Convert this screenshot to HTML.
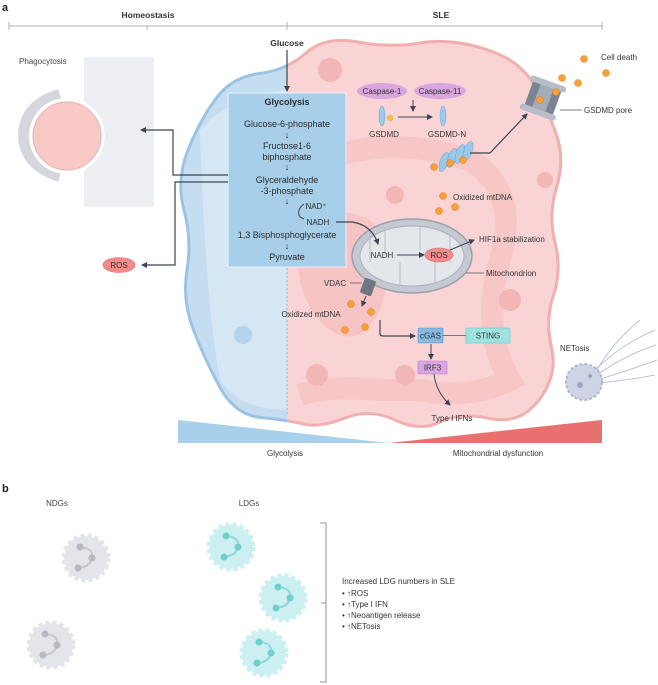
<!DOCTYPE html>
<html><head><meta charset="utf-8"><style>
html,body{margin:0;padding:0;background:#fff;}
svg{display:block;font-family:"Liberation Sans",sans-serif;}
</style></head><body>
<svg width="658" height="685" viewBox="0 0 658 685" xmlns="http://www.w3.org/2000/svg">
<defs>
<marker id="ah" markerWidth="6" markerHeight="6" refX="5" refY="3" orient="auto" markerUnits="userSpaceOnUse"><path d="M0,0 L6,3 L0,6 Z" fill="#3c4652"/></marker>
<clipPath id="cl"><rect x="0" y="0" width="287" height="500"/></clipPath>
<clipPath id="cr"><rect x="287" y="0" width="400" height="500"/></clipPath>
<path id="cell" d="M216,98.5 Q232,77 259.5,73.5 Q287,70 306,53 Q325,36 357.5,42 Q390,48 420,43 Q450,38 485,49 Q520,60 534,85 Q548,110 556.5,135 Q565,160 556.5,187.5 Q548,215 555,242.5 Q562,270 553.5,295 Q545,320 551.5,347.5 Q558,375 539,400 Q520,425 490,418.5 Q460,412 440,422 Q420,432 395,420 Q370,408 345,418 Q320,428 303.5,424 Q287,420 261,417.5 Q235,415 220,387.5 Q205,360 193.5,330 Q182,300 187,270 Q192,240 184,210 Q176,180 188,150 Q200,120 216,98.5 Z"/>
</defs>
<text x="2" y="11" font-size="11" font-weight="bold" fill="#222">a</text>
<text x="148" y="18" font-size="8.5" font-weight="bold" text-anchor="middle" fill="#333">Homeostasis</text>
<text x="441" y="18" font-size="8.5" font-weight="bold" text-anchor="middle" fill="#333">SLE</text>
<g stroke="#999" stroke-width="0.8"><line x1="9" y1="26" x2="602" y2="26"/><line x1="9" y1="22" x2="9" y2="30"/><line x1="147" y1="26" x2="147" y2="30"/><line x1="287" y1="22" x2="287" y2="30"/><line x1="602" y1="22" x2="602" y2="30"/></g>

<!-- phagocytosis -->
<text x="19" y="64" font-size="8" fill="#444">Phagocytosis</text>
<rect x="84" y="57" width="70" height="150" fill="#eceef1"/>
<path d="M60,95 Q25,105 24,135 Q25,165 60,176" fill="none" stroke="#d5d7dc" stroke-width="12"/>
<circle cx="67" cy="136" r="38" fill="#fff"/>
<circle cx="67" cy="136" r="34" fill="#f9c9c6" stroke="#e8b0ad" stroke-width="1"/>

<!-- cell -->
<use href="#cell" clip-path="url(#cl)" fill="#c5ddf0" stroke="#9cc3e3" stroke-width="3"/>
<use href="#cell" clip-path="url(#cr)" fill="#fad4d4" stroke="#f0b0b0" stroke-width="3"/>
<g clip-path="url(#cr)">
<path d="M300,230 Q330,200 370,220 Q400,250 380,310 Q360,350 330,330 Q290,300 300,230 Z" fill="#f5b9ba" opacity="0.6"/>
<path d="M300,170 Q380,130 470,160 Q520,190 500,260 Q480,330 510,380 Q470,400 420,390 L380,390 Q330,385 300,395" fill="none" stroke="#f5c0c0" stroke-width="22" opacity="0.7"/>
<circle cx="330" cy="70" r="12" fill="#f3b6b6"/>
<circle cx="395" cy="195" r="9" fill="#f3b6b6"/>
<circle cx="510" cy="300" r="11" fill="#f3b6b6"/>
<circle cx="317" cy="375" r="11" fill="#f3b6b6"/>
<circle cx="405" cy="375" r="10" fill="#f3b6b6"/>
<circle cx="545" cy="180" r="8" fill="#f3b6b6"/>
</g>
<g clip-path="url(#cl)">
<path d="M200,130 Q230,95 287,90 L287,410 Q240,410 220,380 Q205,300 200,130 Z" fill="#dbeaf6" opacity="0.7"/>
<circle cx="243" cy="335" r="9" fill="#b4d3ec"/>
</g>
<line x1="287" y1="268" x2="287" y2="415" stroke="#999" stroke-width="0.7" stroke-dasharray="2,2"/>

<!-- glucose & glycolysis -->
<text x="287" y="46" font-size="8.5" font-weight="bold" text-anchor="middle" fill="#333">Glucose</text>
<line x1="287" y1="50" x2="287" y2="91" stroke="#3c4652" stroke-width="1.2" marker-end="url(#ah)"/>
<rect x="228" y="93" width="118" height="174" fill="#a8cfe9" stroke="#e8f2fa" stroke-width="1"/>
<g font-size="9" fill="#2b2b2b" text-anchor="middle">
<text x="287" y="105" font-weight="bold">Glycolysis</text>
<text x="287" y="127">Glucose-6-phosphate</text>
<text x="287" y="138">↓</text>
<text x="287" y="149">Fructose1-6</text>
<text x="287" y="160">biphosphate</text>
<text x="287" y="170">↓</text>
<text x="287" y="183">Glyceraldehyde</text>
<text x="287" y="194">-3-phosphate</text>
<text x="287" y="204">↓</text>
<text x="287" y="238">1,3 Bisphosphoglycerate</text>
<text x="287" y="249">↓</text>
<text x="287" y="260">Pyruvate</text>
<text x="316" y="209" font-size="8">NAD⁺</text>
<text x="318" y="225" font-size="8">NADH</text>
</g>
<path d="M304,204 Q296,210 300,217 L304,219" fill="none" stroke="#3c4652" stroke-width="1"/>
<!-- arrows left -->
<path d="M228,175 L173,175 L173,130 L141,130" fill="none" stroke="#3c4652" stroke-width="1.2" marker-end="url(#ah)"/>
<path d="M228,182 L175,182 L175,265 L142,265" fill="none" stroke="#3c4652" stroke-width="1.2" marker-end="url(#ah)"/>
<ellipse cx="119" cy="265" rx="16" ry="7.5" fill="#f28b89" stroke="#e06e6c" stroke-width="0.6"/>
<text x="119" y="268" font-size="8" text-anchor="middle" fill="#333">ROS</text>

<!-- caspases -->
<ellipse cx="382" cy="91" rx="25" ry="8" fill="#d9a6df"/>
<ellipse cx="440" cy="91" rx="26" ry="8" fill="#d9a6df"/>
<text x="382" y="94" font-size="8" text-anchor="middle" fill="#333">Caspase-1</text>
<text x="440" y="94" font-size="8" text-anchor="middle" fill="#333">Caspase-11</text>
<line x1="413" y1="100" x2="413" y2="111" stroke="#3c4652" stroke-width="1" marker-end="url(#ah)"/>
<line x1="398" y1="117" x2="432" y2="117" stroke="#3c4652" stroke-width="1" marker-end="url(#ah)"/>
<ellipse cx="382" cy="116" rx="3" ry="10" fill="#9cc8ea" stroke="#6fa6d3" stroke-width="0.5"/>
<circle cx="390" cy="118" r="3" fill="#f4c430" stroke="#c99" stroke-width="0.4"/>
<ellipse cx="443" cy="116" rx="3" ry="10" fill="#9cc8ea" stroke="#6fa6d3" stroke-width="0.5"/>
<text x="384" y="137" font-size="8" text-anchor="middle" fill="#333">GSDMD</text>
<text x="447" y="137" font-size="8" text-anchor="middle" fill="#333">GSDMD-N</text>
<g fill="#9cc8ea" stroke="#6fa6d3" stroke-width="0.5">
<ellipse cx="444" cy="162" rx="4" ry="10" transform="rotate(20 444 162)"/>
<ellipse cx="452" cy="158" rx="4" ry="10" transform="rotate(20 452 158)"/>
<ellipse cx="460" cy="154" rx="4" ry="10" transform="rotate(20 460 154)"/>
<ellipse cx="468" cy="151" rx="4" ry="10" transform="rotate(20 468 151)"/>
</g>
<path d="M470,153 L490,153 L527,114" fill="none" stroke="#3c4652" stroke-width="1.2" marker-end="url(#ah)"/>
<!-- pore -->
<g transform="rotate(20 543 98)">
<rect x="528" y="82" width="30" height="32" fill="#7a8392" rx="3"/>
<rect x="524" y="80" width="38" height="6" fill="#b7bec9" rx="3"/>
<rect x="524" y="110" width="38" height="6" fill="#b7bec9" rx="3"/>
<rect x="536" y="86" width="14" height="24" fill="#a4acb8"/>
</g>
<line x1="560" y1="110" x2="582" y2="110" stroke="#555" stroke-width="0.7"/>
<text x="584" y="113" font-size="8" fill="#333">GSDMD pore</text>
<text x="601" y="60" font-size="8" fill="#333">Cell death</text>
<g fill="#f6a03a" stroke="#e07a20" stroke-width="0.5">
<circle cx="584" cy="59" r="3.5"/><circle cx="606" cy="73" r="3.5"/><circle cx="562" cy="78" r="3.5"/><circle cx="578" cy="83" r="3.5"/><circle cx="556" cy="92" r="3.5"/><circle cx="540" cy="100" r="3.5"/>
<circle cx="434" cy="167" r="3.5"/><circle cx="450" cy="163" r="3.5"/><circle cx="463" cy="160" r="3.5"/>
<circle cx="443" cy="196" r="3.5"/><circle cx="439" cy="211" r="3.5"/><circle cx="455" cy="207" r="3.5"/>
<circle cx="351" cy="304" r="3.5"/><circle cx="371" cy="312" r="3.5"/><circle cx="345" cy="330" r="3.5"/><circle cx="365" cy="327" r="3.5"/>
</g>
<text x="453" y="200" font-size="8" fill="#333">Oxidized mtDNA</text>

<!-- mitochondrion -->
<ellipse cx="412" cy="256" rx="60" ry="37" fill="#c5c9d1" stroke="#9ba1ab" stroke-width="1.5"/>
<ellipse cx="412" cy="256" rx="52" ry="30" fill="#e3e6ea" stroke="#aab0ba" stroke-width="1"/>
<g stroke="#b7bcc5" stroke-width="1" fill="none">
<path d="M370,232 L370,262"/><path d="M385,228 L385,255"/><path d="M400,262 L400,285"/><path d="M420,226 L420,250"/><path d="M435,262 L435,283"/><path d="M450,235 L450,262"/>
</g>
<path d="M336,222 L352,222 Q372,225 378,244" fill="none" stroke="#3c4652" stroke-width="1.2" marker-end="url(#ah)"/>
<text x="382" y="258" font-size="8" text-anchor="middle" fill="#333">NADH</text>
<line x1="397" y1="255" x2="424" y2="255" stroke="#3c4652" stroke-width="1" marker-end="url(#ah)"/>
<ellipse cx="439" cy="255" rx="14" ry="7" fill="#f28b89" stroke="#e06e6c" stroke-width="0.6"/>
<text x="439" y="258" font-size="8" text-anchor="middle" fill="#333">ROS</text>
<line x1="450" y1="250" x2="474" y2="240" stroke="#3c4652" stroke-width="1" marker-end="url(#ah)"/>
<text x="479" y="242" font-size="8" fill="#333">HIF1a stabilization</text>
<line x1="466" y1="273" x2="484" y2="273" stroke="#555" stroke-width="0.7"/>
<text x="486" y="276" font-size="8" fill="#333">Mitochondrion</text>
<!-- VDAC -->
<rect x="362" y="279" width="12" height="16" fill="#6e7684" rx="2" transform="rotate(20 368 287)"/>
<text x="335" y="286" font-size="8" text-anchor="middle" fill="#333">VDAC</text>
<line x1="350" y1="283" x2="362" y2="283" stroke="#555" stroke-width="0.7"/>
<line x1="366" y1="296" x2="362" y2="306" stroke="#3c4652" stroke-width="1" marker-end="url(#ah)"/>
<text x="311" y="317" font-size="8" text-anchor="middle" fill="#333">Oxidized mtDNA</text>
<path d="M380,320 L380,334 Q380,336 383,336 L415,336" fill="none" stroke="#3c4652" stroke-width="1.2" marker-end="url(#ah)"/>
<rect x="418" y="328" width="25" height="15" fill="#86b8e2" stroke="#5c93c4" stroke-width="0.6" rx="1"/>
<text x="430.5" y="338.5" font-size="8" text-anchor="middle" fill="#333">cGAS</text>
<line x1="443" y1="335.5" x2="466" y2="335.5" stroke="#555" stroke-width="0.8"/>
<rect x="466" y="328" width="44" height="15" fill="#9fe3e0" stroke="#5cc3c0" stroke-width="0.6" rx="1"/>
<text x="488" y="338.5" font-size="8" text-anchor="middle" fill="#333">STING</text>
<line x1="431" y1="344" x2="431" y2="359" stroke="#3c4652" stroke-width="1" marker-end="url(#ah)"/>
<rect x="418" y="361" width="29" height="13" fill="#d9a6df" stroke="#b77fc0" stroke-width="0.6" rx="1"/>
<text x="432.5" y="370.5" font-size="8" text-anchor="middle" fill="#333">IRF3</text>
<path d="M434,374 Q436,392 450,405" fill="none" stroke="#3c4652" stroke-width="1" marker-end="url(#ah)"/>
<text x="452" y="421" font-size="8" text-anchor="middle" fill="#333">Type I IFNs</text>

<!-- NETosis -->
<text x="560" y="351" font-size="8" fill="#333">NETosis</text>
<g stroke="#a9b3cc" stroke-width="0.8" fill="none">
<path d="M595,370 Q620,345 655,330"/><path d="M597,375 Q625,355 656,345"/><path d="M597,380 Q630,370 657,360"/><path d="M596,372 Q610,345 640,320"/><path d="M598,383 Q630,380 655,375"/>
</g>
<circle cx="584" cy="382" r="18" fill="#cfd3e6" stroke="#b0b6cf" stroke-width="2" stroke-dasharray="3,2"/>
<circle cx="580" cy="385" r="3" fill="#9da4c2"/><circle cx="590" cy="376" r="2" fill="#9da4c2"/>

<!-- gradient triangles -->
<polygon points="178,420 389,443 178,443" fill="#a9d0ea"/>
<polygon points="389,443 602,420 602,443" fill="#e8706e"/>
<text x="285" y="456" font-size="8" text-anchor="middle" fill="#333">Glycolysis</text>
<text x="498" y="456" font-size="8" text-anchor="middle" fill="#333">Mitochondrial dysfunction</text>

<!-- part b -->
<text x="2" y="492" font-size="11" font-weight="bold" fill="#222">b</text>
<text x="57" y="506" font-size="8" text-anchor="middle" fill="#444">NDGs</text>
<text x="249" y="506" font-size="8" text-anchor="middle" fill="#444">LDGs</text>
<g>
<circle cx="86" cy="558" r="22" fill="#e4e5ea" stroke="#e4e5ea" stroke-width="5" stroke-dasharray="4,3"/>
<path d="M80,547 Q94,548 92,558 Q90,567 78,568" fill="none" stroke="#c5c7cf" stroke-width="2"/>
<circle cx="80" cy="547" r="3.5" fill="#b7b9c2"/><circle cx="92" cy="558" r="3.5" fill="#b7b9c2"/><circle cx="78" cy="568" r="3.5" fill="#b7b9c2"/>
<circle cx="51" cy="645" r="22" fill="#e4e5ea" stroke="#e4e5ea" stroke-width="5" stroke-dasharray="4,3"/>
<path d="M45,634 Q59,635 57,645 Q55,654 43,655" fill="none" stroke="#c5c7cf" stroke-width="2"/>
<circle cx="45" cy="634" r="3.5" fill="#b7b9c2"/><circle cx="57" cy="645" r="3.5" fill="#b7b9c2"/><circle cx="43" cy="655" r="3.5" fill="#b7b9c2"/>
</g>
<g>
<circle cx="231" cy="547" r="22" fill="#ccf0f1" stroke="#ccf0f1" stroke-width="5" stroke-dasharray="4,3"/>
<path d="M226,536 Q240,537 238,547 Q236,556 224,557" fill="none" stroke="#8fd9d9" stroke-width="2"/>
<circle cx="226" cy="536" r="3.5" fill="#6fcfce"/><circle cx="238" cy="547" r="3.5" fill="#6fcfce"/><circle cx="224" cy="557" r="3.5" fill="#6fcfce"/>
<circle cx="283" cy="598" r="22" fill="#ccf0f1" stroke="#ccf0f1" stroke-width="5" stroke-dasharray="4,3"/>
<path d="M278,587 Q292,588 290,598 Q288,607 276,608" fill="none" stroke="#8fd9d9" stroke-width="2"/>
<circle cx="278" cy="587" r="3.5" fill="#6fcfce"/><circle cx="290" cy="598" r="3.5" fill="#6fcfce"/><circle cx="276" cy="608" r="3.5" fill="#6fcfce"/>
<circle cx="264" cy="653" r="22" fill="#ccf0f1" stroke="#ccf0f1" stroke-width="5" stroke-dasharray="4,3"/>
<path d="M259,642 Q273,643 271,653 Q269,662 257,663" fill="none" stroke="#8fd9d9" stroke-width="2"/>
<circle cx="259" cy="642" r="3.5" fill="#6fcfce"/><circle cx="271" cy="653" r="3.5" fill="#6fcfce"/><circle cx="257" cy="663" r="3.5" fill="#6fcfce"/>
</g>
<path d="M320,523 L326,523 L326,682 L320,682 M326,603 L321,603" fill="none" stroke="#777" stroke-width="0.8"/>
<g font-size="8" fill="#333">
<text x="342" y="584">Increased LDG numbers in SLE</text>
<text x="342" y="596">• ↑ROS</text>
<text x="342" y="607">• ↑Type I IFN</text>
<text x="342" y="618">• ↑Neoantigen release</text>
<text x="342" y="629">• ↑NETosis</text>
</g>
</svg>
</body></html>
